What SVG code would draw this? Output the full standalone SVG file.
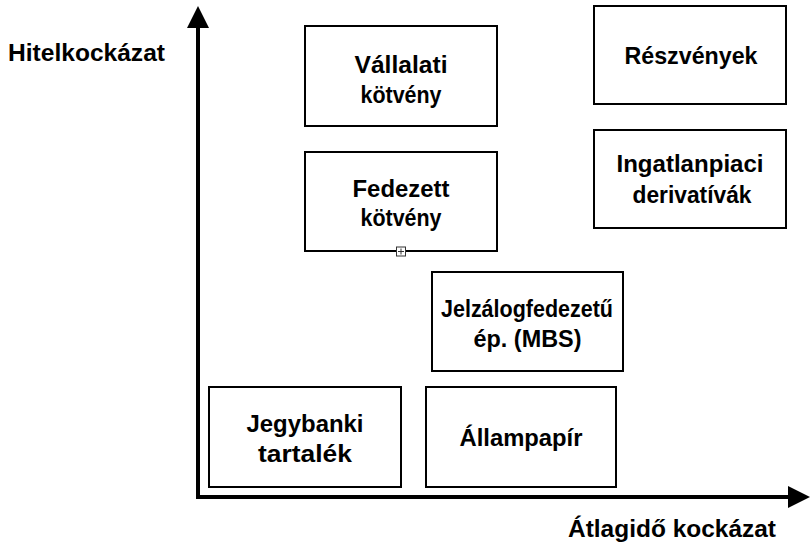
<svg xmlns="http://www.w3.org/2000/svg" width="810" height="545" viewBox="0 0 810 545">
  <style>
    .box { fill: #ffffff; stroke: #000000; stroke-width: 2; }
    .lbl { font-family: "Liberation Sans", Arial, Helvetica, sans-serif; font-weight: bold; font-size: 24.5px; fill: #000000; }
    .mid { text-anchor: middle; }
    .axis { stroke: #000000; stroke-width: 4; fill: none; }
  </style>
  <defs>
    <marker id="arrow" markerUnits="userSpaceOnUse" markerWidth="22" markerHeight="24" viewBox="0 0 22 24" refX="2" refY="12" orient="auto">
      <path d="M0,1 L22,12 L0,23 Z" fill="#000000"/>
    </marker>
  </defs>
  <rect width="810" height="545" fill="#ffffff"/>

  <g id="connectors">
    <path class="axis" d="M198,499 L198,26" marker-end="url(#arrow)"/>
    <path class="axis" d="M196,497 L790,497" marker-end="url(#arrow)"/>
  </g>

  <g id="y-axis-label">
    <text class="lbl" x="8" y="61" textLength="157" lengthAdjust="spacingAndGlyphs">Hitelkockázat</text>
  </g>
  <g id="x-axis-label">
    <text class="lbl" x="568" y="537" textLength="208" lengthAdjust="spacingAndGlyphs">Átlagidő kockázat</text>
  </g>

  <g id="vallalati">
    <rect class="box" x="305" y="26" width="192" height="100"/>
    <text class="lbl mid" x="401" y="73" textLength="93" lengthAdjust="spacingAndGlyphs">Vállalati</text>
    <text class="lbl mid" x="401" y="103" textLength="81" lengthAdjust="spacingAndGlyphs">kötvény</text>
  </g>

  <g id="fedezett">
    <rect class="box" x="305" y="152" width="192" height="99"/>
    <text class="lbl mid" x="401" y="197" textLength="97" lengthAdjust="spacingAndGlyphs">Fedezett</text>
    <text class="lbl mid" x="401" y="226" textLength="81" lengthAdjust="spacingAndGlyphs">kötvény</text>
    <rect x="396.5" y="247" width="9" height="9" fill="#ffffff" stroke="#333333" stroke-width="1"/>
    <path d="M401,248.5 L401,254.5 M398,251.5 L404,251.5" stroke="#333333" stroke-width="1"/>
  </g>

  <g id="reszvenyek">
    <rect class="box" x="594" y="6" width="192" height="98"/>
    <text class="lbl mid" x="691" y="64" textLength="133" lengthAdjust="spacingAndGlyphs">Részvények</text>
  </g>

  <g id="ingatlan">
    <rect class="box" x="594" y="130" width="192" height="98"/>
    <text class="lbl mid" x="690" y="172" textLength="147" lengthAdjust="spacingAndGlyphs">Ingatlanpiaci</text>
    <text class="lbl mid" x="692" y="203" textLength="119" lengthAdjust="spacingAndGlyphs">derivatívák</text>
  </g>

  <g id="mbs">
    <rect class="box" x="432" y="272" width="191" height="99"/>
    <text class="lbl mid" x="527" y="317" textLength="172" lengthAdjust="spacingAndGlyphs">Jelzálogfedezetű</text>
    <text class="lbl mid" x="527.5" y="347" textLength="108" lengthAdjust="spacingAndGlyphs">ép. (MBS)</text>
  </g>

  <g id="jegybanki">
    <rect class="box" x="209" y="387" width="192" height="100"/>
    <text class="lbl mid" x="305" y="432" textLength="117" lengthAdjust="spacingAndGlyphs">Jegybanki</text>
    <text class="lbl mid" x="305" y="462" textLength="94" lengthAdjust="spacingAndGlyphs">tartalék</text>
  </g>

  <g id="allampapir">
    <rect class="box" x="426" y="387" width="190" height="100"/>
    <text class="lbl mid" x="521" y="446" textLength="123" lengthAdjust="spacingAndGlyphs">Állampapír</text>
  </g>
</svg>
